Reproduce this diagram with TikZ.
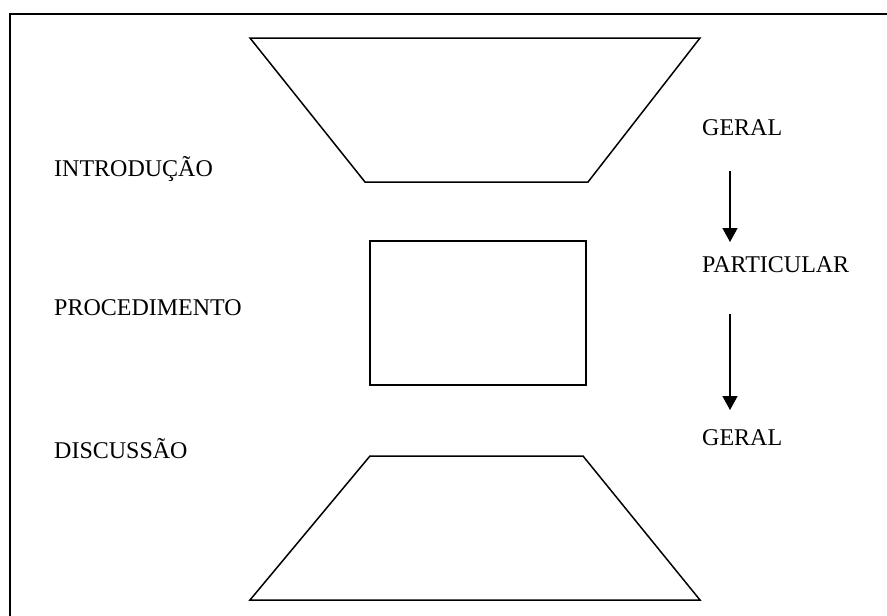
\documentclass[tikz,border=0pt]{standalone}
\usepackage{fontspec}
\setmainfont{Liberation Serif}
\usetikzlibrary{arrows.meta}
\tikzset{
  outline/.style={draw=black, line width=1.5pt, line join=miter},
  label/.style={anchor=base west, inner sep=0pt, font=\fontsize{24}{28}\selectfont},
  flow/.style={draw=black, line width=1.5pt, -{Triangle[length=14pt,width=15pt]}}
}
\begin{document}
\begin{tikzpicture}[x=1pt, y=-1pt]
  \useasboundingbox (0,0) rectangle (887,616);
  \fill[white] (0,0) rectangle (887,616);
  % page frame (only left and top edges fall inside)
  \draw[outline] (10,630) -- (10,14) -- (900,14);
  % funnel narrowing from the general to the particular
  \draw[outline] (250,38) -- (700,38) -- (588,182) -- (365,182) -- cycle;
  % central block
  \draw[outline] (370,241) rectangle (586,385);
  % funnel widening back to the general
  \draw[outline] (370,456) -- (583,456) -- (700,600) -- (250,600) -- cycle;
  % section labels
  \node[label] (intro) at (54,176) {INTRODUÇÃO};
  \node[label] (proc) at (54,315) {PROCEDIMENTO};
  \node[label] (disc) at (54,458) {DISCUSSÃO};
  % scope labels
  \node[label] (geral1) at (702,135) {GERAL};
  \node[label] (part) at (702,272) {PARTICULAR};
  \node[label] (geral2) at (702,445) {GERAL};
  \coordinate (a1s) at (730,171);
  \coordinate (a1e) at (730,242);
  \coordinate (a2s) at (730,314);
  \coordinate (a2e) at (730,410);
  \draw[flow] (a1s) -- (a1e);
  \draw[flow] (a2s) -- (a2e);
\end{tikzpicture}
\end{document}
